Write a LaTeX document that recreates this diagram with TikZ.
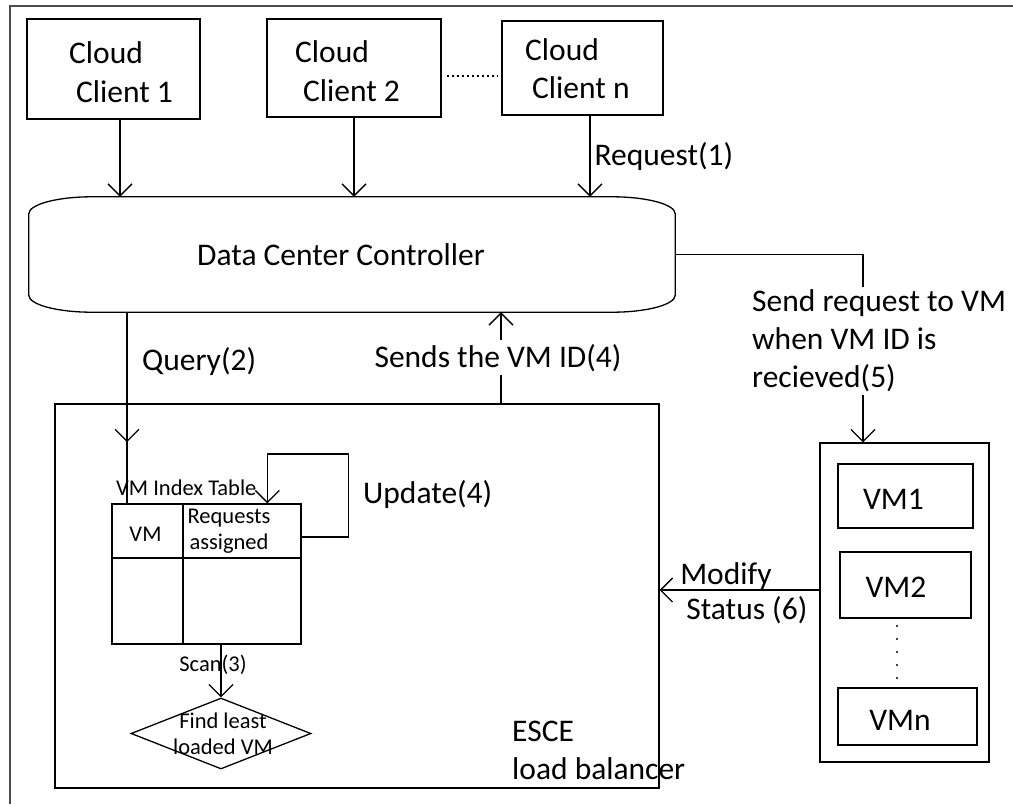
\documentclass[tikz,border=0pt]{standalone}
\usepackage{fontspec}
\setmainfont{Carlito}
\usetikzlibrary{arrows.meta,calc,shapes.geometric}
\newcommand{\bigtxt}{\fontsize{31.5}{38}\selectfont}
\newcommand{\smltxt}{\fontsize{22.5}{25.5}\selectfont}
\tikzset{
  box/.style={draw, line width=1.3pt, inner sep=0pt},
  arr/.style={line width=1.3pt, -{Straight Barb[length=12pt,width=24pt]}},
  lbl/.style={inner sep=0pt, font=\bigtxt},
  sml/.style={inner sep=0pt, font=\smltxt},
}

\begin{document}
\begin{tikzpicture}[x=1pt,y=-1pt]
		\useasboundingbox (0,0) rectangle (1013,804);
		
		%%%%% FRAME %%%%%
		\draw[line width=2.5pt, color=black!70] (10,804) -- (10,6) -- (1013,6);
		
		%%%%% CLIENTS %%%%%
		\node[box, minimum width=173pt, minimum height=100pt] (c1) at (113.5,69) {};
		\node[box, minimum width=174pt, minimum height=98pt] (c2) at (354,68) {};
		\node[box, minimum width=161pt, minimum height=94pt] (cn) at (582.5,68) {};
		\node[lbl, anchor=west] (c1a) at (69,53) {Cloud};
		\node[lbl, anchor=west] (c1b) at (76,92) {Client 1};
		\node[lbl, anchor=west] (c2a) at (295,52) {Cloud};
		\node[lbl, anchor=west] (c2b) at (303,91) {Client 2};
		\node[lbl, anchor=west] (cna) at (525,50) {Cloud};
		\node[lbl, anchor=west] (cnb) at (532,88) {Client n};
		\draw[line width=2pt, dash pattern=on 2pt off 3pt] ([shift={(5pt,-8pt)}]c2.east) -- ([shift={(-4pt,-8pt)}]cn.west);
		
		%%%%% CONTROLLER %%%%%
		\node[lbl, minimum width=646pt, minimum height=115pt, label={[lbl, xshift=-11pt]center:Data Center Controller}] (ctrl) at (352,254.5) {};
		\draw[line width=1.3pt] ([xshift=63pt]ctrl.north west) -- ([xshift=-63pt]ctrl.north east)
			arc[start angle=90, end angle=0, x radius=63pt, y radius=17pt] -- ([yshift=17pt]ctrl.south east)
			arc[start angle=0, end angle=-90, x radius=63pt, y radius=17pt] -- ([xshift=63pt]ctrl.south west)
			arc[start angle=-90, end angle=-180, x radius=63pt, y radius=17pt] -- ([yshift=-17pt]ctrl.north west)
			arc[start angle=180, end angle=90, x radius=63pt, y radius=17pt] -- cycle;
		
		\coordinate (r1) at ([xshift=6.5pt]c1.south);
		\coordinate (rn) at ([xshift=7.5pt]cn.south);
		\draw[arr] (r1) -- (r1 |- ctrl.north);
		\draw[arr] (c2.south) -- (c2.south |- ctrl.north);
		\draw[arr] (rn) -- (rn |- ctrl.north) node[lbl, midway, anchor=west, xshift=4pt] (reqlab) {Request(1)};
		
		%%%%% ESCE LOAD BALANCER %%%%%
		\node[box, minimum width=604pt, minimum height=384pt] (esce) at (357,596) {};
		\node[lbl, align=left, anchor=west] (escelab) at (512,750) {ESCE\\load balancer};
		
		% table
		\node[box, minimum width=71pt, minimum height=54pt, label={[sml, xshift=-2pt, yshift=-3pt]center:VM}] (tvm) at (147.5,531) {};
		\node[box, minimum width=118pt, minimum height=54pt, label={[sml, align=center, xshift=-13pt]center:Requests\\assigned}] (treq) at (242,531) {};
		\node[box, minimum width=71pt, minimum height=86pt] (tb1) at (147.5,601) {};
		\node[box, minimum width=118pt, minimum height=86pt] (tb2) at (242,601) {};
		\node[sml, anchor=west] (tblcap) at (116,488) {VM Index Table};
		
		\draw[arr] ([yshift=-6pt]treq.east) -- ++(47,0) -- ++(0,-83) -| ([xshift=85pt]treq.north west);
		\node[lbl, anchor=west] (updlab) at (363,495) {Update(4)};
		
		\node[draw, diamond, line width=1.3pt, inner sep=0pt, minimum width=180pt, minimum height=71pt] (find) at (221,733.5) {};
		\node[sml, align=center] (findtxt) at (223,734) {Find least\\loaded VM};
		\draw[arr] (find.north |- tb2.south) -- (find.north);
		\node[sml] (scanlab) at (213,665) {Scan(3)};
		
		%%%%% QUERY / VM ID %%%%%
		\coordinate (qa) at ([xshift=-225pt]ctrl.south);
		\coordinate (qb) at (qa |- tvm.north);
		\draw[line width=1.3pt] (qa) -- (qb);
		\draw[arr] (qa) -- ($(qa)!0.68!(qb)$);
		\node[lbl, anchor=west] (qlab) at (142,362) {Query(2)};
		
		\coordinate (ida) at ([xshift=144pt]esce.north);
		\draw[arr] (ida) -- (ida |- ctrl.south) node[lbl, midway, fill=white, inner sep=4pt, xshift=-3pt] (idlab) {Sends the VM ID(4)};
		
		%%%%% VMS %%%%%
		\node[box, minimum width=169pt, minimum height=319pt] (vms) at (904.5,602.5) {};
		\node[box, minimum width=135pt, minimum height=64pt, label={[lbl, xshift=-12pt, yshift=-3pt]center:VM1}] (vm1) at (905.5,496) {};
		\node[box, minimum width=131pt, minimum height=66pt, label={[lbl, xshift=-9.5pt, yshift=-2pt]center:VM2}] (vm2) at (905.5,585) {};
		\node[box, minimum width=139pt, minimum height=57pt, label={[lbl, xshift=-7.5pt, yshift=-3.5pt]center:VMn}] (vmn) at (907.5,716.5) {};
		\foreach \k in {0,...,4}
			\fill (897,626+13*\k) circle[radius=1.2pt];
		
		\coordinate (vmin) at ([xshift=-41.5pt]vms.north);
		\draw[arr] (ctrl.east) -| (vmin);
		\node[lbl, align=left, fill=white, inner sep=3pt, anchor=west] (sendlab) at (749,341) {Send request to VM\\when VM ID is\\recieved(5)};
		
		\coordinate (modst) at ([yshift=12.5pt]vms.west);
		\draw[arr] (modst) -- (modst -| esce.east)
			node[lbl, pos=1, anchor=south west, xshift=20pt] (modlab) {Modify}
			node[lbl, pos=1, anchor=north west, xshift=26pt, yshift=-6pt] (statlab) {Status (6)};
		
	\end{tikzpicture}
\end{document}
